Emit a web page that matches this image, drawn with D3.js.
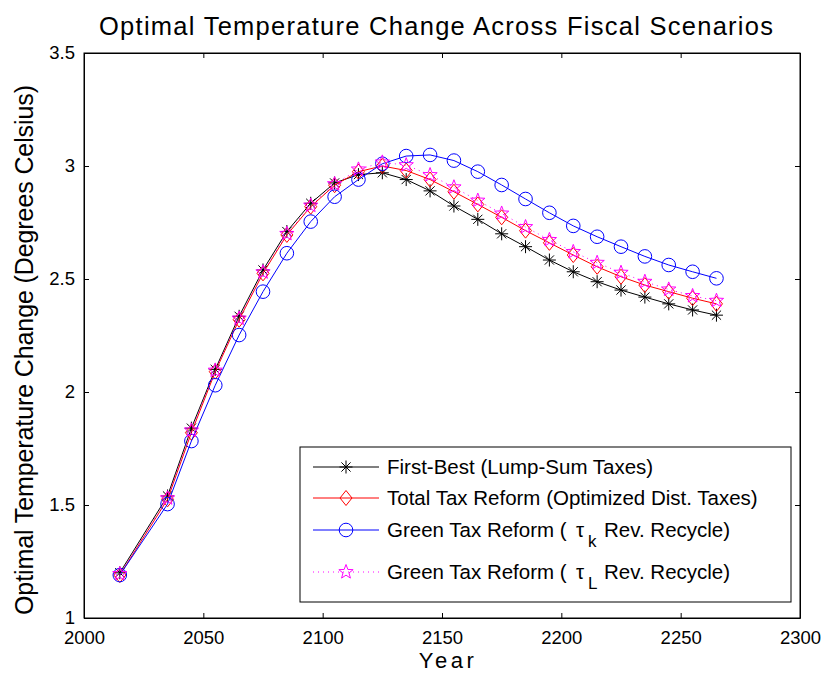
<!DOCTYPE html>
<html lang="en">
<head>
<meta charset="UTF-8">
<title>Optimal Temperature Change</title>
<script src="https://cdn.jsdelivr.net/npm/d3@7/dist/d3.min.js"></script>
<style>
  body { margin: 0; background: #fff; }
  text { font-family: "Liberation Sans", Arial, sans-serif; fill: #000; }
</style>
</head>
<body>
<script>
// data
let years = [2015, 2035, 2045, 2055, 2065, 2075, 2085, 2095, 2105, 2115, 2125, 2135, 2145,
             2155, 2165, 2175, 2185, 2195, 2205, 2215, 2225, 2235, 2245, 2255, 2265];
let firstBest = [1.20, 1.54, 1.84, 2.10, 2.335, 2.54, 2.71, 2.835, 2.925, 2.962, 2.97, 2.94, 2.89,
                 2.823, 2.764, 2.70, 2.643, 2.584, 2.532, 2.488, 2.451, 2.42, 2.39, 2.363, 2.34];
let totalReform = [1.19, 1.525, 1.82, 2.09, 2.32, 2.525, 2.695, 2.82, 2.915, 2.975, 3.0, 2.98, 2.94,
                   2.886, 2.83, 2.773, 2.714, 2.66, 2.606, 2.554, 2.51, 2.473, 2.444, 2.415, 2.39];
let greenK = [1.19, 1.504, 1.783, 2.03, 2.252, 2.444, 2.614, 2.754, 2.864, 2.94, 3.01, 3.044, 3.049,
              3.024, 2.975, 2.916, 2.854, 2.793, 2.735, 2.687, 2.643, 2.60, 2.562, 2.532, 2.503];
let greenL = [1.195, 1.53, 1.83, 2.095, 2.325, 2.53, 2.70, 2.825, 2.92, 2.985, 3.016, 3.004, 2.96,
              2.906, 2.847, 2.79, 2.73, 2.673, 2.62, 2.572, 2.528, 2.488, 2.454, 2.425, 2.404];
let xTicks = [2000, 2050, 2100, 2150, 2200, 2250, 2300];
let yTicks = [1, 1.5, 2, 2.5, 3, 3.5];

let W = 822, H = 675;
let mLeft = 84, mRight = 800, mTop = 53, mBottom = 618;

let svg = d3.select('body').append('svg')
    .attr('width', W).attr('height', H);

let x = d3.scaleLinear().domain([2000, 2300]).range([mLeft, mRight]);
let y = d3.scaleLinear().domain([1, 3.5]).range([mBottom, mTop]);

// axes, ticks pointing inward like matlab
let tickLen = 5;
svg.append('g').attr('transform', 'translate(0,' + mBottom + ')')
    .call(d3.axisBottom(x).tickValues(xTicks).tickFormat(d3.format('d'))
        .tickSizeInner(-tickLen).tickSizeOuter(0).tickPadding(13));
svg.append('g').attr('transform', 'translate(0,' + mTop + ')')
    .call(d3.axisTop(x).tickValues(xTicks).tickFormat('')
        .tickSizeInner(-tickLen).tickSizeOuter(0));
svg.append('g').attr('transform', 'translate(' + mLeft + ',0)')
    .call(d3.axisLeft(y).tickValues(yTicks).tickFormat(d => d)
        .tickSizeInner(-tickLen).tickSizeOuter(0).tickPadding(9));
svg.append('g').attr('transform', 'translate(' + mRight + ',0)')
    .call(d3.axisRight(y).tickValues(yTicks).tickFormat('')
        .tickSizeInner(-tickLen).tickSizeOuter(0));

svg.selectAll('.domain').attr('stroke', '#000');
svg.selectAll('.tick line').attr('stroke', '#000');
svg.selectAll('.tick text').attr('font-size', 18.5)
    .attr('font-family', '"Liberation Sans", Arial, sans-serif').attr('fill', '#000');

svg.append('rect')
    .attr('x', mLeft).attr('y', mTop)
    .attr('width', mRight - mLeft).attr('height', mBottom - mTop)
    .attr('fill', 'none').attr('stroke', '#000');

// marker shapes
function asterisk(g, s) {
  let d = '';
  [0, 45, 90, 135].forEach(a => {
    let r = a * Math.PI / 180;
    d += 'M' + (-s * Math.cos(r)) + ',' + (-s * Math.sin(r)) + 'L' + (s * Math.cos(r)) + ',' + (s * Math.sin(r));
  });
  g.append('path').attr('d', d).attr('stroke', '#000').attr('fill', 'none');
}
function diamond(g, s) {
  g.append('path').attr('d', 'M0,' + (-s * 1.25) + 'L' + s + ',0L0,' + (s * 1.25) + 'L' + (-s) + ',0Z')
    .attr('stroke', '#ff0000').attr('fill', 'none');
}
function circle(g, s) {
  g.append('circle').attr('r', s).attr('stroke', '#0000ff').attr('fill', 'none');
}
function star(g, s) {
  let pts = [];
  for (let i = 0; i < 10; i++) {
    let r = i % 2 === 0 ? s : s * 0.42;
    let a = -Math.PI / 2 + i * Math.PI / 5;
    pts.push([r * Math.cos(a), r * Math.sin(a)]);
  }
  g.append('path').attr('d', 'M' + pts.join('L') + 'Z')
    .attr('stroke', '#ff00ff').attr('fill', 'none');
}

let series = [
  { name: 'fb', vals: firstBest, color: '#000000', dash: null, marker: asterisk, size: 6.5 },
  { name: 'tr', vals: totalReform, color: '#ff0000', dash: null, marker: diamond, size: 6 },
  { name: 'gk', vals: greenK, color: '#0000ff', dash: null, marker: circle, size: 6.8 },
  { name: 'gl', vals: greenL, color: '#ff00ff', dash: '1,4', marker: star, size: 7.5 }
];

let line = d3.line().x((d, i) => x(years[i])).y(d => y(d));

series.forEach(s => {
  let g = svg.append('g').attr('class', s.name);
  g.append('path').datum(s.vals)
    .attr('d', line)
    .attr('fill', 'none')
    .attr('stroke', s.color)
    .attr('stroke-width', 1)
    .attr('stroke-dasharray', s.dash);
  g.selectAll('g.m').data(s.vals).enter().append('g')
    .attr('class', 'm')
    .attr('transform', (d, i) => 'translate(' + x(years[i]) + ',' + y(d) + ')')
    .each(function () { s.marker(d3.select(this), s.size); });
});

// legend
let lg = svg.append('g');
lg.append('rect').attr('x', 300).attr('y', 447).attr('width', 491).attr('height', 155)
  .attr('fill', '#fff').attr('stroke', '#000');
let legendRows = [
  { y: 467, text: ['First-Best (Lump-Sum Taxes)'] },
  { y: 498, text: ['Total Tax Reform (Optimized Dist. Taxes)'] },
  { y: 530, text: ['Green Tax Reform (', 'τ', 'k', 'Rev. Recycle)'] },
  { y: 572, text: ['Green Tax Reform (', 'τ', 'L', 'Rev. Recycle)'] }
];
legendRows.forEach((r, i) => {
  let s = series[i];
  lg.append('line').attr('x1', 313).attr('x2', 379).attr('y1', r.y).attr('y2', r.y)
    .attr('stroke', s.color).attr('stroke-dasharray', s.dash);
  let m = lg.append('g').attr('transform', 'translate(346,' + r.y + ')');
  s.marker(m, s.size);
  let t = lg.append('text').attr('x', 387).attr('y', r.y + 7).attr('font-size', 20.5);
  if (r.text.length === 1) {
    t.text(r.text[0]);
  } else {
    t.append('tspan').text(r.text[0]);
    t.append('tspan').attr('x', 576).text(r.text[1]);
    t.append('tspan').attr('x', 588).attr('dy', 10).attr('font-size', 17).text(r.text[2]);
    t.append('tspan').attr('x', 604).attr('dy', -10).text(r.text[3]);
  }
});

// title and labels
svg.append('text').attr('x', 436).attr('y', 35).attr('text-anchor', 'middle')
  .attr('font-size', 25.5).attr('textLength', 674).attr('lengthAdjust', 'spacing')
  .text('Optimal Temperature Change Across Fiscal Scenarios');
svg.append('text').attr('x', 448).attr('y', 668).attr('text-anchor', 'middle')
  .attr('font-size', 22).attr('letter-spacing', 3.5).text('Year');
svg.append('text').attr('transform', 'translate(33,350) rotate(-90)')
  .attr('text-anchor', 'middle').attr('font-size', 25)
  .attr('textLength', 530).attr('lengthAdjust', 'spacing')
  .text('Optimal Temperature Change (Degrees Celsius)');
</script>
</body>
</html>
